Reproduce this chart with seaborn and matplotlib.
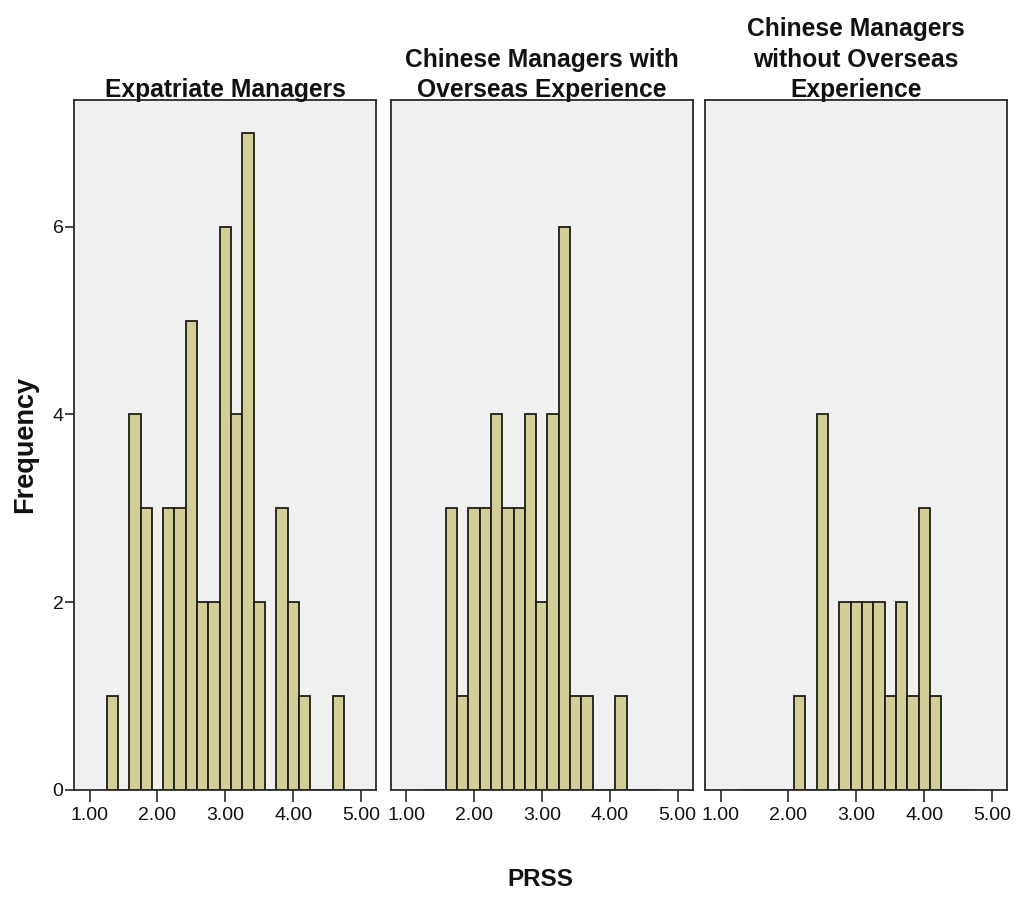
import numpy as np
import pandas as pd
import matplotlib
matplotlib.use("Agg")
import matplotlib.pyplot as plt
import seaborn as sns
from matplotlib.ticker import FixedLocator, FormatStrFormatter

# PRSS histogram bins: 21 bins of width 1/6 from 1.25 to 4.75
bin_edges = [float(v) for v in np.linspace(1.25, 4.75, 22)]
bin_mids = [(a + b) / 2 for a, b in zip(bin_edges[:-1], bin_edges[1:])]

groups = [
    "Expatriate Managers",
    "Chinese Managers with\nOverseas Experience",
    "Chinese Managers\nwithout Overseas\nExperience",
]

# Frequency per bin for each manager group
expatriate_counts = [1, 0, 4, 3, 0, 3, 3, 5, 2, 2, 6, 4, 7, 2, 0, 3, 2, 1, 0, 0, 1]
overseas_counts = [0, 0, 3, 1, 3, 3, 4, 3, 3, 4, 2, 4, 6, 1, 1, 0, 0, 1, 0, 0, 0]
no_overseas_counts = [0, 0, 0, 0, 0, 1, 0, 4, 0, 2, 2, 2, 2, 1, 2, 1, 3, 1, 0, 0, 0]

x_ticks = [1.0, 2.0, 3.0, 4.0, 5.0]
y_ticks = [0, 2, 4, 6]

frames = []
for g, c in zip(groups, [expatriate_counts, overseas_counts, no_overseas_counts]):
    frames.append(pd.DataFrame({"group": g, "PRSS": bin_mids, "count": c}))
df = pd.concat(frames, ignore_index=True)

sns.set_theme(style="white")
fonts = ["Liberation Sans", "DejaVu Sans"]
plt.rcParams["font.family"] = fonts

W, H = 1017, 899
fig = plt.figure(figsize=(W / 100, H / 100), dpi=100)
fig.patch.set_facecolor("white")

lefts = [74, 390.5, 705]
ax_w, top, bottom = 302, 100, 790
bar_color = "#D3CE97"
edge_color = "#1E1E14"
frame_color = "#2A2A2A"

for i, (g, left) in enumerate(zip(groups, lefts)):
    ax = fig.add_axes([left / W, 1 - bottom / H, ax_w / W, (bottom - top) / H])
    sub = df[df["group"] == g]
    sns.histplot(data=sub, x="PRSS", weights="count", bins=bin_edges, ax=ax,
                 color=bar_color, edgecolor=edge_color, linewidth=1.3, alpha=1.0)
    ax.set_facecolor("#F0F0F0")
    ax.set_xlim(0.77, 5.22)
    ax.set_ylim(0, 7.35)
    ax.set_xlabel("")
    ax.set_ylabel("")
    for s in ax.spines.values():
        s.set_visible(True)
        s.set_color(frame_color)
        s.set_linewidth(1.3)
    ax.xaxis.set_major_locator(FixedLocator(x_ticks))
    ax.xaxis.set_major_formatter(FormatStrFormatter("%.2f"))
    ax.tick_params(axis="x", bottom=True, direction="out", length=8.5, width=1.2,
                   color=frame_color, labelsize=14, pad=4, labelcolor="#111111")
    if i == 0:
        ax.yaxis.set_major_locator(FixedLocator(y_ticks))
        ax.tick_params(axis="y", left=True, direction="out", length=6.5, width=1.2,
                       color=frame_color, labelsize=14, pad=1, labelcolor="#111111")
    else:
        ax.set_yticks([])
    ax.text(0.5, 1.004, g, transform=ax.transAxes, ha="center", va="baseline",
            fontsize=17.7, fontweight="bold", linespacing=1.35, color="#111111")

fig.text(25 / W, 1 - 444 / H, "Frequency", rotation=90, ha="center", va="center",
         fontsize=19.5, fontweight="bold", color="#111111")
fig.text(540 / W, 1 - 879 / H, "PRSS", ha="center", va="center",
         fontsize=17.5, fontweight="bold", color="#111111")

fig.savefig("out.png", dpi=100, facecolor="white")
